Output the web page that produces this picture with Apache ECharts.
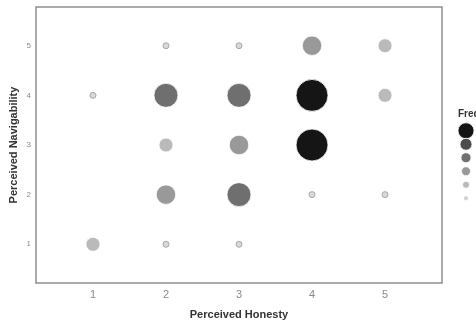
<!DOCTYPE html>
<html><head><meta charset="utf-8">
<script src="https://cdn.jsdelivr.net/npm/echarts@6/dist/echarts.min.js"></script>
<style>html,body{margin:0;padding:0;background:#fff}#c{width:476px;height:324px}</style>
</head><body><div id="c"></div>
<script>
// Data
const honesty      = [1,2,3, 2,3,4,5, 2,3,4, 1,2,3,4,5, 2,3,4,5];
const navigability = [1,1,1, 2,2,2,2, 3,3,3, 4,4,4,4,4, 5,5,5,5];
const frequency    = [2,1,1, 3,4,1,1, 2,3,6, 1,4,4,6,2, 1,1,3,2];
const tickValues   = [1,2,3,4,5];
const legendLevels = [6,5,4,3,2,1];
const legendLabels = ['6','5','4','3','2','1'];

// styling
const colorOf = {1:'#d8d8d8',2:'#bababa',3:'#999999',4:'#6f6f6f',5:'#4c4c4c',6:'#151515'};
const sizeOf  = {1:6,2:14,3:19.5,4:24,5:28,6:32};
const legendSizeOf = {1:3.5,2:7,3:9,4:10,5:12,6:16};

const pts = honesty.map((x,i)=>({
  value:[x, navigability[i], frequency[i]],
  symbolSize: sizeOf[frequency[i]],
  itemStyle:{opacity:1, color: colorOf[frequency[i]], borderColor: frequency[i]===1 ? '#a8a8a8' : 'rgba(255,255,255,0.8)', borderWidth: 1}
}));
const legendPts = legendLevels.map((f,i)=>({
  value:[0, legendLabels[i]],
  symbolSize: legendSizeOf[f],
  itemStyle:{opacity:1, color: colorOf[f], borderColor: f===1 ? '#bbb' : 'rgba(255,255,255,0.8)', borderWidth: f===1?0.5:1}
}));

const chart = echarts.init(document.getElementById('c'), null, {renderer:'canvas'});
chart.setOption({
  animation:false,
  backgroundColor:'#fff',
  title:{text:'Frequency', left:453, top:104, textStyle:{fontSize:10, fontWeight:'bold', color:'#333', fontFamily:'Liberation Sans, Arial'}},
  grid:[
    {left:36, right:34, top:7, bottom:41, show:true, borderColor:'#8e8e8e', borderWidth:1.5, backgroundColor:'transparent', outerBoundsMode:'none', containLabel:false},
    {left:458, width:16, top:124, height:81, outerBoundsMode:'none', containLabel:false}
  ],
  xAxis:[
    {type:'value', gridIndex:0, min:0.22, max:5.78,
     axisLine:{show:false}, axisTick:{show:false}, splitLine:{show:false},
     axisLabel:{customValues:tickValues, color:'#8a8a8a', fontSize:11, margin:6, fontFamily:'Liberation Sans, Arial'},
     name:'Perceived Honesty', nameLocation:'middle', nameGap:26, nameMoveOverlap:false,
     nameTextStyle:{fontSize:11, fontWeight:'bold', color:'#333', fontFamily:'Liberation Sans, Arial'}},
    {type:'value', gridIndex:1, min:-1, max:1, show:false}
  ],
  yAxis:[
    {type:'value', gridIndex:0, min:0.22, max:5.78,
     axisLine:{show:false}, axisTick:{show:false}, splitLine:{show:false},
     axisLabel:{customValues:tickValues, color:'#8a8a8a', fontSize:8, margin:5, fontFamily:'Liberation Sans, Arial'},
     name:'Perceived Navigability', nameLocation:'middle', nameGap:17, nameMoveOverlap:false,
     nameTextStyle:{fontSize:11, fontWeight:'bold', color:'#333', fontFamily:'Liberation Sans, Arial'}},
    {type:'category', gridIndex:1, data:legendLabels, inverse:true, show:false}
  ],
  series:[
    {type:'scatter', xAxisIndex:0, yAxisIndex:0, data:pts, symbol:'circle'},
    {type:'scatter', xAxisIndex:1, yAxisIndex:1, data:legendPts, symbol:'circle'}
  ]
});
</script></body></html>
